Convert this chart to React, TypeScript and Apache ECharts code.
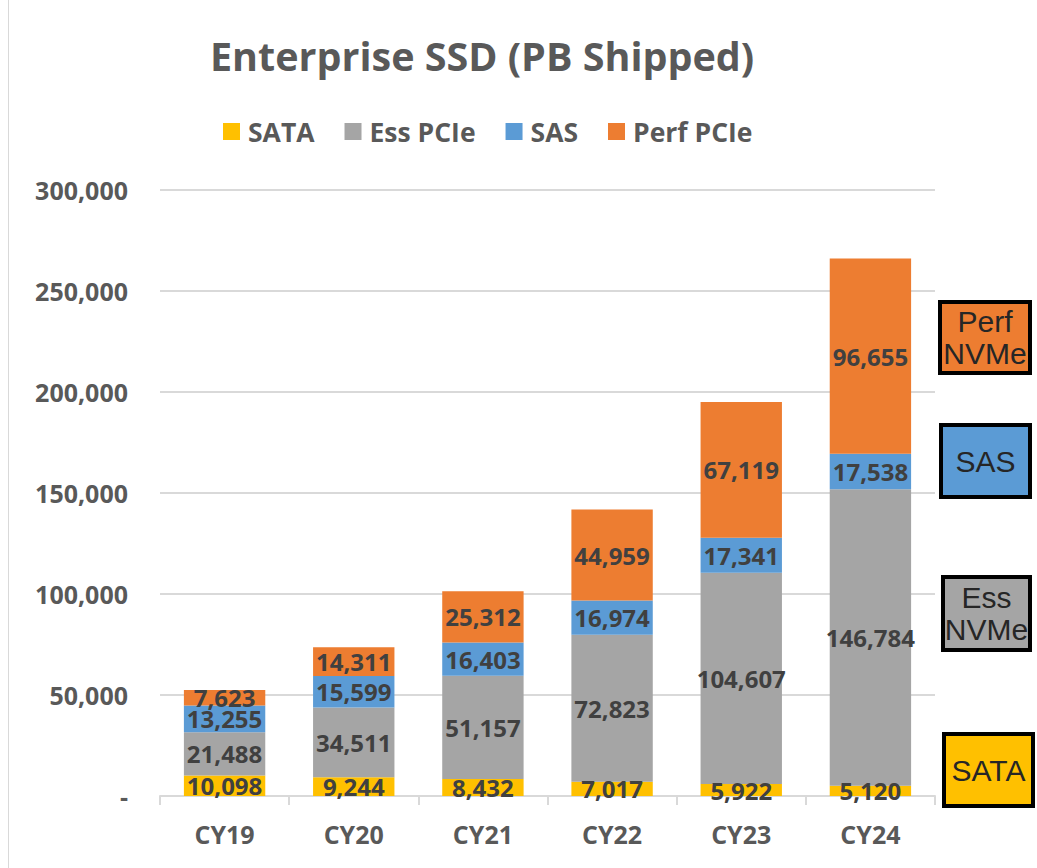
import React, { useEffect, useRef } from "react";
import * as echarts from "echarts";

const categories = ["CY19", "CY20", "CY21", "CY22", "CY23", "CY24"];
const sataValues = [10098, 9244, 8432, 7017, 5922, 5120];
const essValues = [21488, 34511, 51157, 72823, 104607, 146784];
const sasValues = [13255, 15599, 16403, 16974, 17341, 17538];
const perfValues = [7623, 14311, 25312, 44959, 67119, 96655];
const seriesNames = ["SATA", "Ess PCIe", "SAS", "Perf PCIe"];
const colors = ["#FFC000", "#A5A5A5", "#5B9BD5", "#ED7D31"];
const boxLabels = ["Perf\nNVMe", "SAS", "Ess\nNVMe", "SATA"];

const FONT = "'Open Sans', sans-serif";

function fmt(v: number): string {
  if (v === 0) return "-";
  return v.toLocaleString("en-US");
}

export default function App() {
  const ref = useRef<HTMLDivElement>(null);
  useEffect(() => {
    if (!ref.current) return;
    const chart = echarts.init(ref.current, null, { renderer: "svg" });
    const data = [sataValues, essValues, sasValues, perfValues];
    const boxes = [
      { x: 940, y: 302, w: 90, h: 71, fill: colors[3], label: boxLabels[0] },
      { x: 941, y: 425, w: 89, h: 72, fill: colors[2], label: boxLabels[1] },
      { x: 943, y: 577, w: 87, h: 73, fill: colors[1], label: boxLabels[2] },
      { x: 944, y: 734, w: 89, h: 72, fill: colors[0], label: boxLabels[3] },
    ];
    const graphics: any[] = [
      {
        type: "line",
        shape: { x1: 8.5, y1: 0, x2: 8.5, y2: 868 },
        style: { stroke: "#d9d9d9", lineWidth: 1 },
      },
    ];
    boxes.forEach((b) => {
      graphics.push({
        type: "rect",
        shape: { x: b.x, y: b.y, width: b.w, height: b.h },
        style: { fill: b.fill, stroke: "#000", lineWidth: 4 },
      });
      graphics.push({
        type: "text",
        x: b.x + b.w / 2,
        y: b.y + b.h / 2,
        style: {
          text: b.label,
          fill: "#262626",
          font: "30px 'Liberation Sans', Arial, sans-serif",
          align: "center",
          verticalAlign: "middle",
          lineHeight: 32,
        },
      });
    });
    chart.setOption({
      animation: false,
      title: {
        text: "Enterprise SSD (PB Shipped)",
        left: 205,
        top: 31,
        textStyle: {
          fontFamily: FONT,
          fontSize: 39.5,
          fontWeight: "bold",
          color: "#595959",
        },
      },
      legend: {
        left: 223,
        top: 118,
        padding: 0,
        itemWidth: 17,
        itemHeight: 17,
        itemGap: 30,
        icon: "rect",
        data: seriesNames,
        textStyle: {
          fontFamily: FONT,
          fontSize: 26.5,
          fontWeight: "bold",
          color: "#595959",
          padding: [0, 0, 0, 3],
        },
      },
      grid: { left: 160, right: 102, top: 190, bottom: 72 },
      xAxis: {
        type: "category",
        data: categories,
        axisLine: { lineStyle: { color: "#d9d9d9", width: 2 } },
        axisTick: { show: true, length: 9, lineStyle: { color: "#d9d9d9", width: 2 } },
        axisLabel: {
          margin: 25,
          fontFamily: FONT,
          fontSize: 25,
          fontWeight: "bold",
          color: "#595959",
        },
      },
      yAxis: {
        type: "value",
        min: 0,
        max: 300000,
        interval: 50000,
        axisLine: { show: false },
        axisTick: { show: false },
        splitLine: { lineStyle: { color: "#d9d9d9", width: 2 } },
        axisLabel: {
          margin: 32,
          fontFamily: FONT,
          fontSize: 25,
          fontWeight: "bold",
          color: "#595959",
          formatter: (v: number) => fmt(v),
        },
      },
      series: seriesNames.map((name, i) => ({
        name,
        type: "bar",
        stack: "total",
        barWidth: "63%",
        itemStyle: { color: colors[i] },
        data: data[i],
        label: {
          show: true,
          position: "inside",
          fontFamily: FONT,
          fontSize: 24,
          fontWeight: "bold",
          color: "#404040",
          formatter: (p: any) => fmt(p.value),
        },
      })),
      graphic: graphics,
    });
    return () => chart.dispose();
  }, []);
  return (
    <div
      ref={ref}
      style={{ position: "absolute", left: 0, top: 0, width: 1037, height: 868, background: "#fff" }}
    />
  );
}
